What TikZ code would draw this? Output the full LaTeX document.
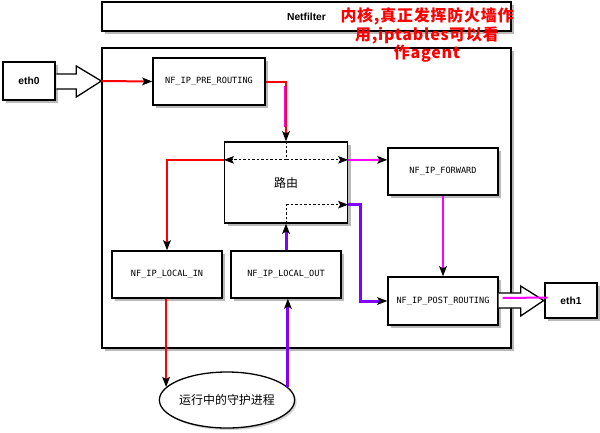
\documentclass[tikz,border=0pt]{standalone}
\usepackage{fontspec}
\setmainfont{Liberation Sans}
\newfontfamily\cjk{Noto Sans CJK SC}
\newfontfamily\monof{DejaVu Sans Mono}
\usetikzlibrary{arrows.meta,shapes.geometric,shadows,calc}
\definecolor{purp}{RGB}{128,0,255}
\definecolor{mag}{RGB}{255,0,255}
\begin{document}
\begin{tikzpicture}[x=1bp,y=-1bp,
  shad/.style={drop shadow={shadow xshift=3bp,shadow yshift=-3bp,opacity=0.55}},
  frame/.style={draw,line width=1.3bp,fill=white,shad,inner sep=0pt},
  box/.style={frame,font=\monof\fontsize{8.6}{10}\selectfont},
  ethbox/.style={draw,line width=2.6bp,fill=white,shad,inner sep=0pt,font=\bfseries\fontsize{10.3}{12}\selectfont},
  hollow/.style={draw,line width=1.3bp,fill=white,line join=miter},
  tip/.style={-{Stealth[length=10bp,width=7.5bp,inset=2bp,color=black]}},
  redl/.style={draw=red,line width=2bp},
  magl/.style={draw=mag,line width=2bp},
  purl/.style={draw=purp,line width=3bp},
  dashl/.style={draw=black,line width=1bp,dash pattern=on 2.5bp off 2bp}
]
\fill[white] (0,0) rectangle (600,432);
\useasboundingbox (0,0) rectangle (600,432);

% frames
\node[frame,minimum width=409bp,minimum height=29bp,font=\bfseries\fontsize{10.3}{12}\selectfont] (nf) at (306.5,16.5) {Netfilter};
\node[frame,minimum width=409bp,minimum height=300bp] (main) at (306.5,198) {};

\node[text=red,align=center,font=\cjk\bfseries\fontsize{16}{17}\selectfont\addfontfeature{LetterSpace=5}] (note) at (427,35) {内核,真正发挥防火墙作\\用,iptables可以看\\作agent};

% hook boxes
\node[box,minimum width=112bp,minimum height=47bp] (pre) at (209,81.5) {NF\_IP\_PRE\_ROUTING};
\node[frame,minimum width=123bp,minimum height=81bp,font=\cjk\fontsize{12}{14}\selectfont] (route) at (286,182.5) {路由};
\node[box,minimum width=110bp,minimum height=47bp] (fwd) at (443,171.5) {NF\_IP\_FORWARD};
\node[box,minimum width=110bp,minimum height=48bp] (post) at (443,301) {NF\_IP\_POST\_ROUTING};
\node[box,minimum width=110bp,minimum height=47bp] (lin) at (167,274.5) {NF\_IP\_LOCAL\_IN};
\node[box,minimum width=110bp,minimum height=47bp] (lout) at (286,274.5) {NF\_IP\_LOCAL\_OUT};

\node[ellipse,draw,line width=1.3bp,fill=white,drop shadow={shadow xshift=2bp,shadow yshift=-2bp,opacity=0.35},minimum width=132bp,minimum height=56bp,inner sep=0pt,font=\cjk\fontsize{12}{14}\selectfont] (ell) at (227,400) {运行中的守护进程};

% interfaces
\node[ethbox,minimum width=52bp,minimum height=38bp] (eth0) at (29,81) {eth0};
\node[ethbox,minimum width=52bp,minimum height=35bp] (eth1) at (571,300.5) {eth1};

% hollow arrows
\draw[hollow] ($(eth0.east)+(0,-7)$) -- ++(20,0) -- ++(0,-8) -- ($(eth0.east)+(45,0)$) -- ($(eth0.east)+(20,16)$) -- ++(0,-8) -- ($(eth0.east)+(0,8)$);
\coordinate (in0) at ($(eth0.east)+(45,0)$);
\draw[hollow] ($(post.east)+(0,-8)$) -- ++(22,0) -- ++(0,-7) -- (eth1.west) -- ($(post.east)+(22,15)$) -- ++(0,-8) -- ($(post.east)+(0,7)$);
\draw[magl] ($(post.east)+(4,-3)$) -- ($(eth1.west)+(4,-3)$);

% inner routing coordinates
\coordinate (rc1) at ($(route.north)+(0,18.5)$);
\coordinate (rc2) at ($(route.south)+(0,-19)$);

% connectors
\draw[redl,tip] (in0) -- (pre.west);
\draw[redl,tip] (pre.east) -| (route.north);
\draw[draw=mag,line width=1.2bp] ($(pre.east -| route.north)+(-1.3,4)$) -- ($(route.north)+(-1.3,-14)$);

\draw[dashl] (route.north) -- (rc1);
\draw[dashl,tip] (rc1) -- (rc1 -| route.west);
\draw[dashl,tip] (rc1) -- (rc1 -| route.east);
\draw[magl,tip] (rc1 -| route.east) -- (rc1 -| fwd.west);
\draw[redl,tip] (rc1 -| route.west) -| (lin.north);

\draw[dashl] (route.south) -- (rc2);
\draw[dashl,tip] (rc2) -- (rc2 -| route.east);
\draw[purl,tip] (rc2 -| route.east) -- ++(12,0) |- (post.west);

\draw[purl,tip] (lout.north) -- (route.south);
\draw[magl,tip] (fwd.south) -- (post.north);

\draw[redl,tip] (ell.168 |- lin.south) -- (ell.168);
\draw[purl,tip] (ell.12) -- (ell.12 |- lout.south);
\end{tikzpicture}
\end{document}
